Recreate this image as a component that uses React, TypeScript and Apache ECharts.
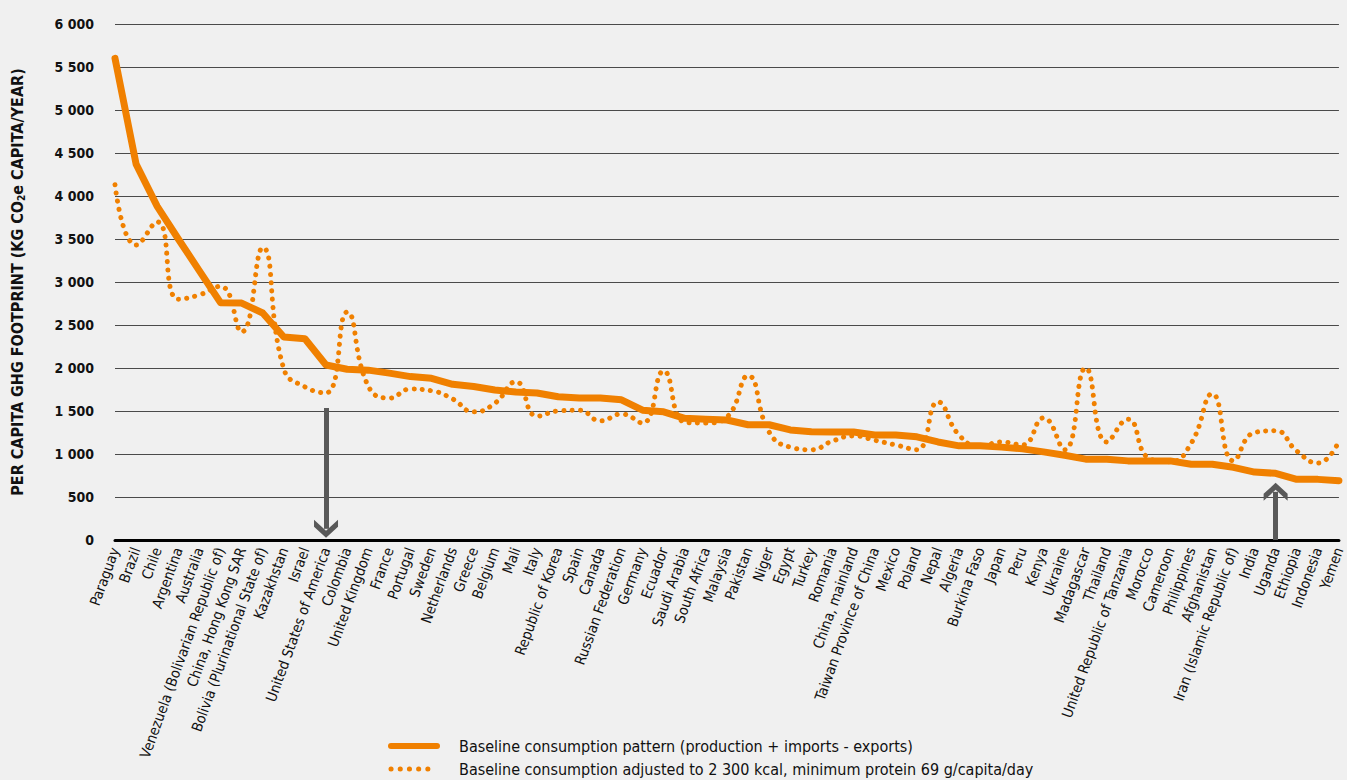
import React, { useEffect, useRef } from "react";
import * as echarts from "echarts";

const countries = [
  "Paraguay", "Brazil", "Chile", "Argentina", "Australia",
  "Venezuela (Bolivarian Republic of)", "China, Hong Kong SAR",
  "Bolivia (Plurinational State of)", "Kazakhstan", "Israel",
  "United States of America", "Colombia", "United Kingdom", "France",
  "Portugal", "Sweden", "Netherlands", "Greece", "Belgium", "Mali", "Italy",
  "Republic of Korea", "Spain", "Canada", "Russian Federation", "Germany",
  "Ecuador", "Saudi Arabia", "South Africa", "Malaysia", "Pakistan", "Niger",
  "Egypt", "Turkey", "Romania", "China, mainland", "Taiwan Province of China",
  "Mexico", "Poland", "Nepal", "Algeria", "Burkina Faso", "Japan", "Peru",
  "Kenya", "Ukraine", "Madagascar", "Thailand", "United Republic of Tanzania",
  "Morocco", "Cameroon", "Philippines", "Afghanistan",
  "Iran (Islamic Republic of)", "India", "Uganda", "Ethiopia", "Indonesia",
  "Yemen",
];

const baseline = [
  5600, 4370, 3880, 3500, 3130, 2760, 2755, 2640, 2360, 2340, 2035, 1985,
  1975, 1940, 1900, 1880, 1810, 1785, 1745, 1720, 1710, 1665, 1650, 1650,
  1630, 1510, 1490, 1415, 1405, 1395, 1340, 1340, 1280, 1260, 1255, 1255,
  1220, 1220, 1200, 1140, 1095, 1095, 1080, 1060, 1025, 985, 940, 940, 920,
  920, 920, 880, 880, 845, 790, 775, 705, 705, 690,
];

const adjusted = [
  4130, 3430, 3700, 2800, 2850, 2950, 2420, 3400, 1990, 1780, 1710, 2650,
  1790, 1650, 1755, 1735, 1640, 1490, 1590, 1840, 1440, 1500, 1510, 1385,
  1465, 1360, 1965, 1370, 1360, 1430, 1910, 1255, 1080, 1050, 1150, 1210,
  1160, 1105, 1050, 1605, 1220, 1090, 1140, 1105, 1420, 1050, 2000, 1140,
  1405, 950, 910, 1125, 1700, 920, 1250, 1270, 1035, 895, 1150,
];

const seriesNames = [
  "Baseline consumption pattern (production + imports - exports)",
  "Baseline consumption adjusted to 2 300 kcal, minimum protein 69 g/capita/day",
];

// arrow annotations: [category, from value, to value]
const arrowDown = ["United States of America", 1535, 130];
const arrowUp = ["Uganda", 0, 560];

const FONT = "'Liberation Sans Narrow', 'DejaVu Sans Condensed', 'Roboto Condensed', 'Noto Sans', sans-serif";
const ORANGE = "#f08000";
const GREY = "#595959";
const CHEVRON = "path://M0,0 L12,11 L12,18 L0,7 L-12,18 L-12,11 Z";
const CLEAR = "rgba(0,0,0,0)";

function fmt(v: number): string {
  if (v >= 1000) {
    const th = Math.floor(v / 1000);
    const rest = String(v % 1000).padStart(3, "0");
    return `${th} ${rest}`;
  }
  return String(v);
}

export default function App() {
  const ref = useRef<HTMLDivElement>(null);

  useEffect(() => {
    if (!ref.current) return;
    const chart = echarts.init(ref.current, undefined, { renderer: "svg" });
    chart.setOption({
      animation: false,
      backgroundColor: "#f0f0f0",
      grid: { left: 115, right: 4, top: 24, bottom: 240 },
      legend: {
        orient: "vertical",
        left: 388,
        top: 738,
        itemGap: 7,
        itemWidth: 46,
        itemHeight: 14,
        padding: 0,
        textStyle: {
          fontFamily: FONT,
          fontSize: 16,
          color: "#111",
          padding: [0, 0, 0, 17],
        },
        data: [
          {
            name: seriesNames[0],
            itemStyle: { color: CLEAR, borderColor: CLEAR, borderWidth: 0 },
            lineStyle: { width: 6, color: ORANGE, cap: "round" },
          },
          {
            name: seriesNames[1],
            itemStyle: { color: CLEAR, borderColor: CLEAR, borderWidth: 0 },
            lineStyle: { width: 5, color: ORANGE, type: [0.1, 9.1], cap: "round" },
          },
        ],
      },
      xAxis: {
        type: "category",
        data: countries,
        boundaryGap: false,
        axisLine: { show: true, lineStyle: { color: "#000", width: 3 } },
        axisTick: { show: false },
        axisLabel: {
          interval: 0,
          rotate: 70,
          margin: 8,
          fontFamily: FONT,
          fontSize: 14.5,
          color: "#111",
        },
        splitLine: { show: false },
      },
      yAxis: {
        type: "value",
        min: 0,
        max: 6000,
        interval: 500,
        name: "{a|PER CAPITA GHG FOOTPRINT (KG CO}{sub|2}{a|e CAPITA/YEAR)}",
        nameLocation: "middle",
        nameGap: 88,
        nameRotate: 90,
        nameTextStyle: {
          rich: {
            a: { fontFamily: FONT, fontWeight: "bold", fontSize: 16, color: "#111", lineHeight: 20, verticalAlign: "middle" },
            sub: { fontFamily: FONT, fontWeight: "bold", fontSize: 10, color: "#111", lineHeight: 10, verticalAlign: "bottom", padding: [0, 0, 1, 0] },
          },
        },
        axisLine: { show: false },
        axisTick: { show: false },
        axisLabel: {
          formatter: (v: number) => fmt(v),
          fontFamily: FONT,
          fontWeight: "bold",
          fontSize: 14,
          color: "#111",
          margin: 21,
        },
        splitLine: { lineStyle: { color: "#4a4a4a", width: 1 } },
      },
      series: [
        {
          name: seriesNames[0],
          type: "line",
          data: baseline,
          symbol: "none",
          lineStyle: { color: ORANGE, width: 7, cap: "round", join: "round" },
          itemStyle: { color: ORANGE },
          z: 2,
          markLine: {
            silent: true,
            symbol: ["none", CHEVRON],
            symbolSize: [24, 18],
            label: { show: false },
            lineStyle: { color: GREY, width: 5, type: "solid" },
            data: [
              [
                { coord: [arrowDown[0], arrowDown[1]] },
                { coord: [arrowDown[0], arrowDown[2]] },
              ],
              [
                { coord: [arrowUp[0], arrowUp[1]] },
                { coord: [arrowUp[0], arrowUp[2]] },
              ],
            ],
          },
        },
        {
          name: seriesNames[1],
          type: "line",
          data: adjusted,
          symbol: "none",
          smooth: 0.5,
          lineStyle: { color: ORANGE, width: 5, type: [0.1, 8.2], cap: "round" },
          itemStyle: { color: ORANGE },
          z: 3,
        },
      ],
    });
    return () => chart.dispose();
  }, []);

  return (
    <div
      ref={ref}
      style={{ position: "fixed", left: 0, top: 0, width: 1347, height: 780, background: "#f0f0f0" }}
    />
  );
}
